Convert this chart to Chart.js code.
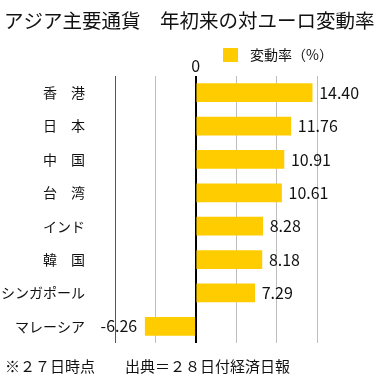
<!DOCTYPE html>
<html>
<head>
<meta charset="utf-8">
<script src="https://cdn.jsdelivr.net/npm/chart.js@4/dist/chart.umd.min.js"></script>
<style>
  html, body { margin: 0; padding: 0; background: #fff; }
  #wrap { width: 379px; height: 379px; }
</style>
</head>
<body>
<div id="wrap"><canvas id="chart" width="379" height="379"></canvas></div>
<script>
const categories = ['香　港', '日　本', '中　国', '台　湾', 'インド', '韓　国', 'シンガポール', 'マレーシア'];
const values = [14.40, 11.76, 10.91, 10.61, 8.28, 8.18, 7.29, -6.26];
const seriesName = '変動率（%）';
const titleText = 'アジア主要通貨　年初来の対ユーロ変動率';
const footerText = '※２７日時点　　出典＝２８日付経済日報';

const FONT = '"Noto Sans CJK JP", "Noto Sans", sans-serif';
const barColor = '#FFCC00';

// title, legend, zero label, value labels and footer
const decorations = {
    id: 'decorations',
    afterDraw(chart) {
        const c = chart.ctx;
        const xs = chart.scales.x;
        c.save();
        c.fillStyle = '#111';
        c.textBaseline = 'middle';

        c.font = '19.5px ' + FONT;
        c.textAlign = 'left';
        c.fillText(titleText, 4, 21);

        c.fillStyle = barColor;
        c.fillRect(223, 48, 15, 14);
        c.fillStyle = '#111';
        c.font = '14px ' + FONT;
        c.fillText(seriesName, 250, 55);

        c.font = '16px ' + FONT;
        c.textAlign = 'center';
        c.fillText('0', xs.getPixelForValue(0), 66);

        const meta = chart.getDatasetMeta(0);
        c.font = '16px ' + FONT;
        meta.data.forEach((bar, i) => {
            const v = values[i];
            const label = v.toFixed(2);
            if (v >= 0) {
                c.textAlign = 'left';
                c.fillText(label, bar.x + 7, bar.y);
            } else {
                c.textAlign = 'right';
                c.fillText(label, bar.x - 8, bar.y);
            }
        });

        c.font = '15px ' + FONT;
        c.textAlign = 'left';
        c.fillText(footerText, 5, 366);
        c.restore();
    }
};

new Chart(document.getElementById('chart'), {
    type: 'bar',
    data: {
        labels: categories,
        datasets: [{
            label: seriesName,
            data: values,
            backgroundColor: barColor,
            borderWidth: 0,
            barThickness: 18
        }]
    },
    options: {
        indexAxis: 'y',
        responsive: false,
        animation: false,
        layout: { padding: { left: 0, right: 62, top: 76, bottom: 36 } },
        plugins: {
            legend: { display: false },
            tooltip: { enabled: false }
        },
        scales: {
            x: {
                min: -10,
                max: 15,
                ticks: { display: false, stepSize: 5 },
                border: { display: false },
                grid: {
                    drawTicks: false,
                    color: (ctx) => ctx.tick && ctx.tick.value === 0 ? '#000' : (ctx.tick && ctx.tick.value === -10 ? '#555' : '#bdbdbd'),
                    lineWidth: (ctx) => ctx.tick && ctx.tick.value === 0 ? 2 : 1
                },
                afterFit: (axis) => { axis.height = 0; }
            },
            y: {
                grid: { display: false },
                border: { display: false },
                ticks: {
                    padding: 22,
                    color: '#111',
                    font: { family: FONT, size: 14 }
                },
                afterFit: (axis) => { axis.width = 115; }
            }
        }
    },
    plugins: [decorations]
});
</script>
</body>
</html>
